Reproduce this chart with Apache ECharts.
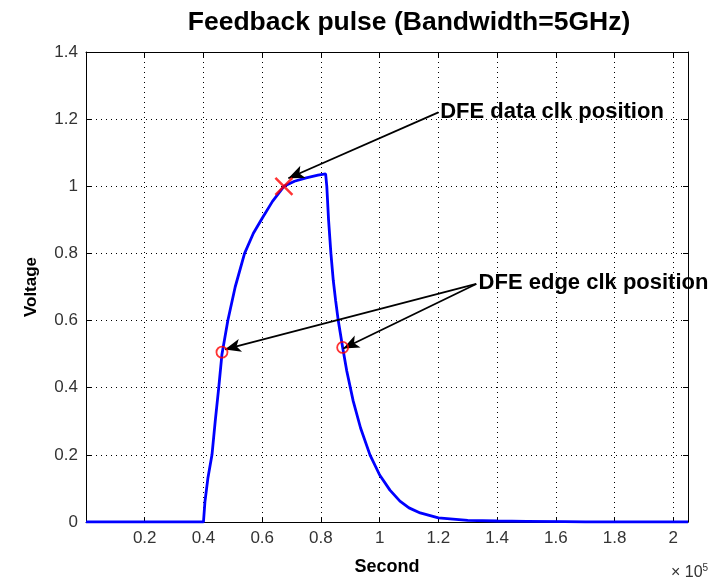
<!DOCTYPE html>
<html>
<head>
<meta charset="utf-8">
<script src="https://cdn.jsdelivr.net/npm/echarts@6/dist/echarts.min.js"></script>
<style>
html,body{margin:0;padding:0;background:#fff;}
#c{width:725px;height:582px;}
</style>
</head>
<body>
<div id="c"></div>
<script>
// Pulse waveform (x in units of 1e5 s)
var pulseX = [0, 0.40, 0.405, 0.415, 0.429, 0.44, 0.452, 0.463, 0.483, 0.508, 0.54, 0.57, 0.60, 0.635, 0.674, 0.71, 0.75, 0.79, 0.816,
  0.82, 0.826, 0.834, 0.842, 0.85, 0.859, 0.874, 0.888, 0.91, 0.935, 0.967, 1.0, 1.035, 1.069, 1.10, 1.138, 1.2, 1.3, 1.4, 1.5, 1.63, 1.7, 2.05];
var pulseY = [0, 0, 0.06, 0.13, 0.2, 0.3, 0.4, 0.5, 0.6, 0.7, 0.8, 0.86, 0.905, 0.955, 1.0, 1.015, 1.025, 1.033, 1.037,
  1.0, 0.9, 0.8, 0.72, 0.66, 0.6, 0.52, 0.45, 0.36, 0.28, 0.2, 0.14, 0.095, 0.062, 0.042, 0.027, 0.012, 0.005, 0.003, 0.002, 0.001, 0, 0];
// Markers
var dataClk = [[0.674, 1.0]];
var edgeClk = [[0.463, 0.506], [0.874, 0.52]];
// Annotations
var dataLabel = 'DFE data clk position';
var dataLabelAt = [1.206, 1.22];
var dataArrows = [[[1.20, 1.22], [0.689, 1.024]]];
var edgeLabel = 'DFE edge clk position';
var edgeLabelAt = [1.337, 0.712];
var edgeArrows = [[[1.329, 0.709], [0.473, 0.514]], [[1.329, 0.709], [0.876, 0.517]]];
var titleText = 'Feedback pulse (Bandwidth=5GHz)';
var xName = 'Second';
var yName = 'Voltage';
var xMin = 0, xMax = 2.05, xStep = 0.2;
var yMin = 0, yMax = 1.4, yStep = 0.2;

var pulse = pulseX.map(function (x, i) { return [x, pulseY[i]]; });
var FONT = 'Liberation Sans, Arial, Helvetica, sans-serif';

function tickFmt(v) {
  var r = Math.round(v * 10) / 10;
  if (Math.abs(v - r) > 1e-6) return '';
  return String(r);
}

var chart = echarts.init(document.getElementById('c'));
chart.setOption({
  animation: false,
  backgroundColor: '#fff',
  title: {
    text: titleText, left: 404, top: 4, textAlign: 'center',
    textStyle: { fontFamily: FONT, fontSize: 26.5, fontWeight: 'bold', color: '#000' }
  },
  grid: { left: 86, right: 37, top: 52, bottom: 60 },
  xAxis: [{
    type: 'value', min: xMin, max: xMax, interval: xStep, position: 'bottom',
    name: xName, nameLocation: 'middle', nameGap: 36,
    nameTextStyle: { fontFamily: FONT, fontSize: 18, fontWeight: 'bold', color: '#000' },
    axisLine: { show: true, onZero: false, lineStyle: { color: '#000', width: 1 } },
    axisTick: { show: true, inside: true, length: 5, lineStyle: { color: '#000' } },
    axisLabel: {
      fontFamily: FONT, fontSize: 17, color: '#333', margin: 8,
      showMinLabel: false, showMaxLabel: false,
      formatter: function (v) { return v <= 0 || v > 2.01 ? '' : tickFmt(v); }
    },
    splitLine: { show: true, lineStyle: { color: '#000', type: [1, 4], width: 1 } }
  }, {
    type: 'value', min: xMin, max: xMax, interval: xStep, position: 'top',
    axisLine: { show: true, onZero: false, lineStyle: { color: '#000', width: 1 } },
    axisTick: { show: true, inside: true, length: 5, lineStyle: { color: '#000' } },
    axisLabel: { show: false }, splitLine: { show: false }
  }],
  yAxis: [{
    type: 'value', min: yMin, max: yMax, interval: yStep, position: 'left',
    name: yName, nameLocation: 'middle', nameGap: 46,
    nameTextStyle: { fontFamily: FONT, fontSize: 17, fontWeight: 'bold', color: '#000' },
    axisLine: { show: true, onZero: false, lineStyle: { color: '#000', width: 1 } },
    axisTick: { show: true, inside: true, length: 5, lineStyle: { color: '#000' } },
    axisLabel: { fontFamily: FONT, fontSize: 17, color: '#333', margin: 8, formatter: tickFmt },
    splitLine: { show: true, lineStyle: { color: '#000', type: [1, 4], width: 1 } }
  }, {
    type: 'value', min: yMin, max: yMax, interval: yStep, position: 'right',
    axisLine: { show: true, onZero: false, lineStyle: { color: '#000', width: 1 } },
    axisTick: { show: true, inside: true, length: 5, lineStyle: { color: '#000' } },
    axisLabel: { show: false }, splitLine: { show: false }
  }],
  graphic: [{
    type: 'text', left: 671, top: 563,
    style: {
      text: '{a|\u00d7 10}{b|5}',
      rich: {
        a: { fontFamily: FONT, fontSize: 16, fill: '#333', verticalAlign: 'bottom' },
        b: { fontFamily: FONT, fontSize: 10, fill: '#333', verticalAlign: 'top', padding: [0, 0, 8, 0] }
      }
    }
  }],
  series: [{
    type: 'line', name: 'pulse', data: pulse, showSymbol: false, symbol: 'none',
    lineStyle: { color: '#0000ff', width: 2.8 }, z: 3,
    markLine: {
      silent: true, symbol: ['none', 'arrow'], symbolSize: [10, 16],
      lineStyle: { color: '#000', width: 1.8, type: 'solid' },
      label: { show: false },
      data: dataArrows.concat(edgeArrows).map(function (a) {
        return [{ coord: a[0] }, { coord: a[1] }];
      })
    },
    markPoint: {
      silent: true, symbol: 'circle', symbolSize: 0,
      label: {
        show: true, position: 'right', distance: 0, color: '#000',
        fontFamily: FONT, fontSize: 22, fontWeight: 'bold'
      },
      data: [
        { coord: dataLabelAt, label: { formatter: dataLabel } },
        { coord: edgeLabelAt, label: { formatter: edgeLabel } }
      ]
    }
  }, {
    type: 'scatter', data: dataClk, symbol: 'path://M0,0L10,10M10,0L0,10', symbolSize: 17,
    itemStyle: { color: 'none', borderColor: '#ff0000', borderWidth: 2.5 }, z: 5
  }, {
    type: 'scatter', data: edgeClk, symbol: 'circle', symbolSize: 11,
    itemStyle: { color: 'rgba(0,0,0,0)', borderColor: '#ff0000', borderWidth: 1.8 }, z: 5
  }]
});
</script>
</body>
</html>
